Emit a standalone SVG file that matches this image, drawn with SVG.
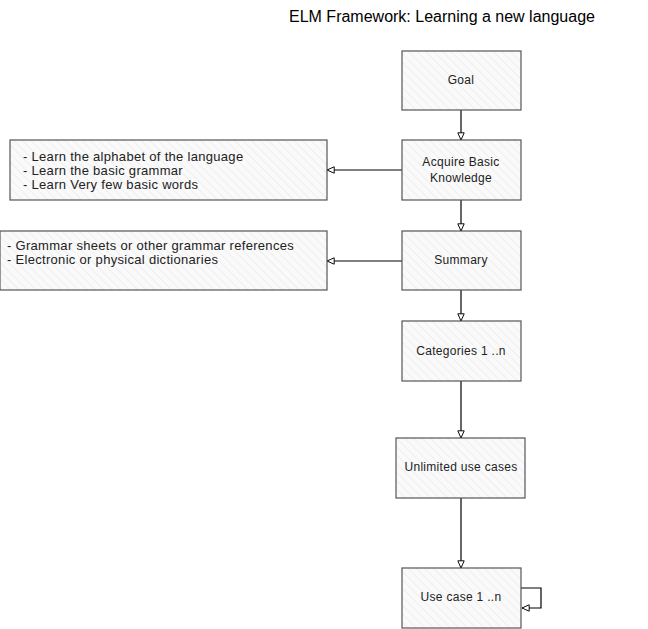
<svg xmlns="http://www.w3.org/2000/svg" width="648" height="629" viewBox="0 0 648 629">
<defs>
<pattern id="hatch" width="6" height="6" patternUnits="userSpaceOnUse" patternTransform="rotate(-45)">
<rect width="6" height="6" fill="#fafafa"/>
<line x1="0" y1="0" x2="0" y2="6" stroke="#e4e4e4" stroke-width="1"/>
</pattern>
<marker id="arr" viewBox="0 0 10 10" refX="10" refY="5" markerWidth="8" markerHeight="8" orient="auto" markerUnits="userSpaceOnUse">
<path d="M1,1 L10,5 L1,9 Z" fill="#fff" stroke="#000" stroke-width="1.2"/>
</marker>
</defs>
<style>
.box{fill:url(#hatch);stroke:#555;stroke-width:1.2}
.lbl{font-family:"Liberation Sans",Arial,sans-serif;font-size:12px;letter-spacing:0.3px;fill:#222;text-anchor:middle;dominant-baseline:middle}
.lst{font-family:"Liberation Sans",Arial,sans-serif;font-size:13px;letter-spacing:0.3px;fill:#222}
.edge{fill:none;stroke:#000;stroke-width:1.2;marker-end:url(#arr)}
.title{font-family:"Liberation Sans",Arial,sans-serif;font-size:16px;fill:#000;text-anchor:middle}
</style>
<rect width="648" height="629" fill="#fff"/>
<text class="title" x="442" y="22">ELM Framework: Learning a new language</text>
<g id="connectors">
<path class="edge" d="M461,110 L461,140"/>
<path class="edge" d="M461,200 L461,231"/>
<path class="edge" d="M461,290 L461,321"/>
<path class="edge" d="M461,381 L461,438"/>
<path class="edge" d="M461,498 L461,568"/>
<path class="edge" d="M402,170 L327,170"/>
<path class="edge" d="M402,261 L327,261"/>
<path class="edge" d="M521,588 L541,588 L541,608 L522,608"/>
</g>
<g id="goal"><rect class="box" x="402" y="51" width="119" height="59"/><text class="lbl" x="461" y="81">Goal</text></g>
<g id="acquire"><rect class="box" x="402" y="140" width="119" height="60"/><text class="lbl" x="461" y="163">Acquire Basic</text><text class="lbl" x="461" y="179">Knowledge</text></g>
<g id="summary"><rect class="box" x="402" y="231" width="119" height="59"/><text class="lbl" x="461" y="261">Summary</text></g>
<g id="categories"><rect class="box" x="402" y="321" width="119" height="60"/><text class="lbl" x="461" y="352">Categories 1 ..n</text></g>
<g id="unlimited"><rect class="box" x="396" y="438" width="129" height="60"/><text class="lbl" x="461" y="468">Unlimited use cases</text></g>
<g id="usecase"><rect class="box" x="402" y="568" width="119" height="60"/><text class="lbl" x="461" y="598">Use case 1 ..n</text></g>
<g id="basics"><rect class="box" x="10" y="140" width="317" height="60"/>
<text class="lst" x="23" y="161">- Learn the alphabet of the language</text>
<text class="lst" x="23" y="175">- Learn the basic grammar</text>
<text class="lst" x="23" y="189">- Learn Very few basic words</text></g>
<g id="refs"><rect class="box" x="0" y="231" width="327" height="59"/>
<text class="lst" x="7" y="250">- Grammar sheets or other grammar references</text>
<text class="lst" x="7" y="264">- Electronic or physical dictionaries</text></g>
</svg>
